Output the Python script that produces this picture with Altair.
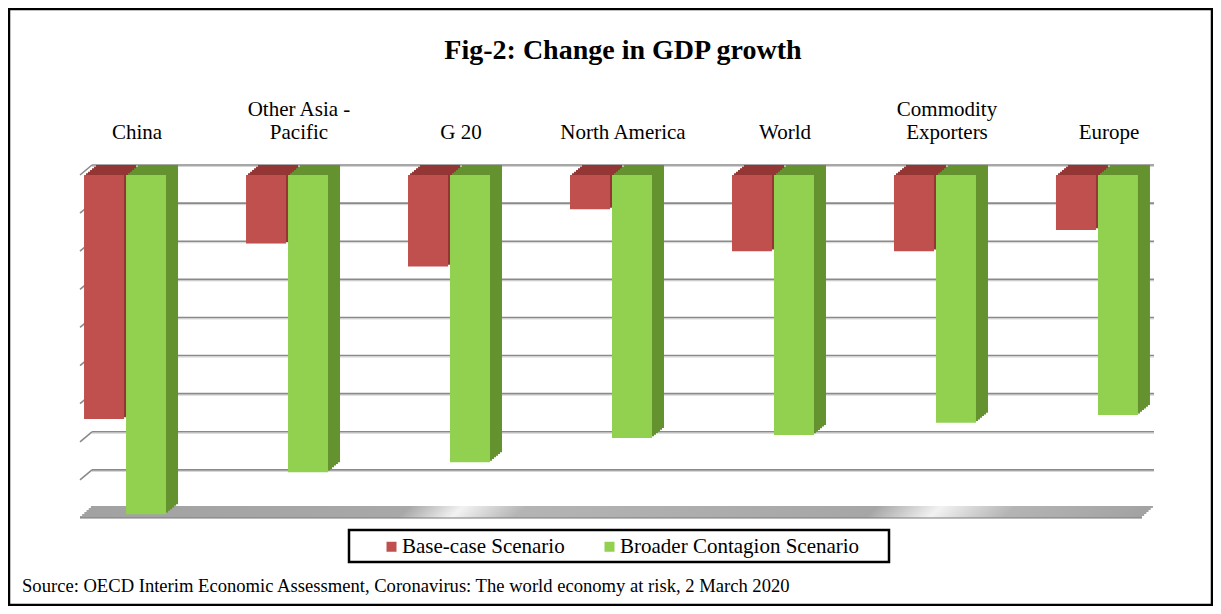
import altair as alt
import pandas as pd

# ---------------- data ----------------
categories = ["China", "Other Asia - Pacific", "G 20", "North America",
              "World", "Commodity Exporters", "Europe"]
base_case = [-3.2, -0.9, -1.2, -0.45, -1.0, -1.0, -0.72]
broader_contagion = [-4.45, -3.9, -3.77, -3.45, -3.41, -3.25, -3.15]
series = ["Base-case Scenario", "Broader Contagion Scenario"]
front_colors = ["#C0504D", "#92D050"]
side_colors = ["#943634", "#64922F"]
grid_values = [0, -0.5, -1.0, -1.5, -2.0, -2.5, -3.0, -3.5, -4.0]
floor_value = [-4.5]

TITLE = "Fig-2: Change in GDP growth"
SOURCE = ("Source: OECD Interim Economic Assessment, Coronavirus: "
          "The world economy at risk, 2 March 2020")

# ---------------- layout ----------------
W, H = 1062, 343
PAD = {"left": 72, "top": 167, "right": 71, "bottom": 88}
DX, DY = 12, 10          # depth of the 3-D effect
BAR_W = 40
SHIFT = 21               # half distance between the two bars of a group
FONT = "Liberation Serif"

rows = []
for cat, b, g in zip(categories, base_case, broader_contagion):
    rows.append({"category": cat, "series": series[0], "value": b})
    rows.append({"category": cat, "series": series[1], "value": g})
df = pd.DataFrame(rows)
grid_df = pd.DataFrame({"v": grid_values})
floor_df = pd.DataFrame({"v": floor_value})
one = pd.DataFrame({"a": [0]})

yscale = alt.Scale(domain=[-4.5, 0], nice=False, zero=True)
xscale = alt.Scale(paddingInner=0.494, paddingOuter=0.025)

label_expr = ("datum.label == 'Other Asia - Pacific' ? ['Other Asia -', 'Pacific'] : "
              "datum.label == 'Commodity Exporters' ? ['Commodity', 'Exporters'] : "
              "['', datum.label]")
x_axis = alt.Axis(orient="top", domain=False, ticks=False, grid=False,
                  labelAngle=0, labelFont=FONT, labelFontSize=21,
                  labelColor="black", labelPadding=56, labelOffset=12,
                  labelLineHeight=23, labelExpr=label_expr, labelLimit=0)
X = alt.X("category:N", sort=categories, scale=xscale, title=None, axis=x_axis)
color_enc = alt.Color("series:N", sort=series,
                      scale=alt.Scale(domain=series, range=front_colors),
                      legend=alt.Legend(orient="none", legendX=298, legendY=361,
                                        direction="horizontal", title=None,
                                        symbolType="square", symbolSize=100,
                                        symbolStrokeWidth=0, symbolOffset=3,
                                        labelFont=FONT,
                                        labelFontSize=21, labelColor="black",
                                        labelOffset=0, columnPadding=31,
                                        padding=0, labelLimit=0))

layers = []

# back-wall gridlines
layers.append(
    alt.Chart(grid_df).mark_rule(color="#d4d4d4", strokeWidth=1,
                                 xOffset=DX, x2Offset=DX, yOffset=-DY + 1.5)
    .encode(y=alt.Y("v:Q", scale=yscale, axis=None), x=alt.value(0), x2=alt.value(W))
)
layers.append(
    alt.Chart(grid_df).mark_rule(color="#8a8a8a", strokeWidth=1.6,
                                 xOffset=DX, x2Offset=DX, yOffset=-DY)
    .encode(y=alt.Y("v:Q", scale=yscale, axis=None), x=alt.value(0), x2=alt.value(W))
)
# left-wall diagonals
layers.append(
    alt.Chart(grid_df).mark_rule(color="#8a8a8a", strokeWidth=1.6, y2Offset=-DY)
    .encode(y=alt.Y("v:Q", scale=yscale, axis=None), y2="v:Q",
            x=alt.value(0), x2=alt.value(DX))
)

# floor slab
floor_grad = alt.LinearGradient(
    gradient="linear", x1=0, x2=1, y1=0, y2=0,
    stops=[alt.GradientStop(color="#a2a2a2", offset=0),
           alt.GradientStop(color="#a8a8a8", offset=0.30),
           alt.GradientStop(color="#f2f2f2", offset=0.35),
           alt.GradientStop(color="#b4b4b4", offset=0.41),
           alt.GradientStop(color="#a6a6a6", offset=0.74),
           alt.GradientStop(color="#f2f2f2", offset=0.80),
           alt.GradientStop(color="#b4b4b4", offset=0.87),
           alt.GradientStop(color="#a2a2a2", offset=1)])
for k in range(0, 11, 2):
    sx = k * DX / 11.0
    layers.append(
        alt.Chart(floor_df).mark_rect(color=floor_grad, xOffset=sx, x2Offset=sx,
                                      yOffset=-k - 2, y2Offset=-k)
        .encode(y=alt.Y("v:Q", scale=yscale, axis=None), y2="v:Q",
                x=alt.value(0), x2=alt.value(W))
    )
layers.append(
    alt.Chart(floor_df).mark_rule(color="#7a7a7a", strokeWidth=1.2)
    .encode(y=alt.Y("v:Q", scale=yscale, axis=None), x=alt.value(0), x2=alt.value(W))
)

# depth (side + top faces) of the bars
for i, s in enumerate(series):
    base_shift = -SHIFT if i == 0 else SHIFT
    for k in [2, 4, 6, 8, 10, 12]:
        oy = -k * DY / DX
        layers.append(
            alt.Chart(df).transform_filter(alt.datum.series == s)
            .mark_bar(width=BAR_W, xOffset=base_shift + k, yOffset=oy, y2Offset=oy,
                      color=side_colors[i])
            .encode(x=X, y=alt.Y("value:Q", scale=yscale, axis=None))
        )

# front faces
for i, s in enumerate(series):
    base_shift = -SHIFT if i == 0 else SHIFT
    layers.append(
        alt.Chart(df).transform_filter(alt.datum.series == s)
        .mark_bar(width=BAR_W, xOffset=base_shift)
        .encode(x=X, y=alt.Y("value:Q", scale=yscale, axis=None), color=color_enc)
    )

# legend box, outer frame, source note
layers.append(
    alt.Chart(one).mark_rect(filled=False, stroke="black", strokeWidth=2.5)
    .encode(x=alt.value(269), x2=alt.value(809), y=alt.value(355), y2=alt.value(387))
)
layers.append(
    alt.Chart(one).mark_rect(filled=False, stroke="black", strokeWidth=2.5)
    .encode(x=alt.value(-71), x2=alt.value(W + PAD["right"] - 1),
            y=alt.value(-PAD["top"] + 1), y2=alt.value(H + PAD["bottom"] - 1))
)
layers.append(
    alt.Chart(one).mark_text(align="left", baseline="alphabetic", font=FONT,
                             fontSize=18.6, color="black")
    .encode(x=alt.value(-58), y=alt.value(417), text=alt.value(SOURCE))
)

chart = alt.layer(*layers).properties(
    width=W, height=H,
    padding=PAD,
    background="white",
    autosize=alt.AutoSizeParams(type="none"),
    title=alt.Title(TITLE, font=FONT, fontSize=28, fontWeight="bold",
                    color="black", anchor="middle", offset=-57, dx=12),
).configure_view(stroke=None)

chart.save("out.html", embed_options={"renderer": "svg", "actions": False})
